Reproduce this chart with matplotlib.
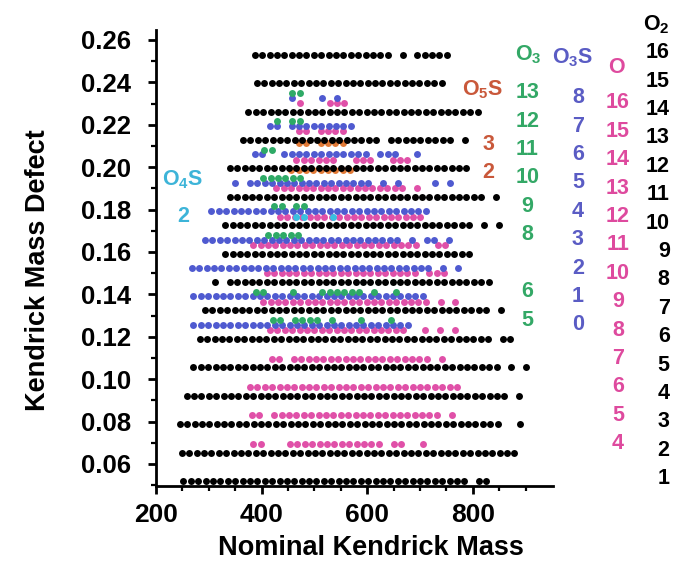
import numpy as np
import matplotlib
matplotlib.use("Agg")
import matplotlib.pyplot as plt
from matplotlib.ticker import FixedLocator

plt.rcParams['font.family'] = 'Liberation Sans'
plt.rcParams['font.weight'] = 'bold'
plt.rcParams['mathtext.fontset'] = 'custom'
plt.rcParams['mathtext.rm'] = 'Liberation Sans:bold'
plt.rcParams['mathtext.it'] = 'Liberation Sans:bold'
plt.rcParams['mathtext.bf'] = 'Liberation Sans:bold'

# Each row = (DBE, Kendrick mass defect, first nominal mass, mask)
# mask: one char per CH2 step (14 Da), '#' = peak seen, '.' = none (spaces only for reading)
o2_rows = [
    (1, 0.0520, 252, "########## ########## ########## #########. ##"),
    (2, 0.0654, 249, "########## ########## ########## ########## ######"),
    (3, 0.0788, 245, "########## ########## ########## ########## ####..#"),
    (4, 0.0922, 258, "########## ########## ########## ########## ####.#"),
    (5, 0.1056, 271, "########## ########## ########## ########## ##.#.#"),
    (6, 0.1190, 283, "########## ########## ########## ########## .##"),
    (7, 0.1324, 293, "########## ########## ########## #########. #"),
    (8, 0.1458, 312, "#.######## ########## ########## ########"),
    (9, 0.1592, 331, "########## ########## ########## ####"),
    (10, 0.1726, 331, "########## ########## ########## ####.#.#"),
    (11, 0.1860, 340, "########## ########## ########## #####.#"),
    (12, 0.1994, 340, "########## ########## ########## ###"),
    (13, 0.2128, 365, "########## #########. #########. #"),
    (14, 0.2262, 375, "########## ########## ########## ##"),
    (15, 0.2396, 391, "########## ########## ######"),
    (16, 0.2530, 387, "########## #########. #.#####"),
]

o_rows = [
    (4, 0.0695, 384, "##... ##### ######## .##..#"),
    (5, 0.0829, 382, "##. ########## ########## ### .#"),
    (6, 0.0963, 378, "########## ########## #########"),
    (7, 0.1097, 419, "##. ########## ######### .#"),
    (8, 0.1231, 416, "########## ######### ..#.#.#"),
    (9, 0.1365, 403, "########## ########## ### .#.#"),
    (10, 0.1499, 410, "########## ########## # .###"),
    (11, 0.1633, 384, "########## ########## ### ..##"),
    (12, 0.1767, 435, "########## ##########"),
    (13, 0.1901, 428, "########## ######## .#"),
    (14, 0.2035, 466, "######..###..###"),
    (15, 0.2169, 470, "##.####"),
    (16, 0.2303, 473, "#...###"),
]

o3s_rows = [
    (0, 0.1256, 271, "########## ########## ##########"),
    (1, 0.1390, 271, "########## ########## ########## ##"),
    (2, 0.1524, 268, "########## ########## ########## ### .#.#"),
    (3, 0.1658, 293, "########## ########## ####### .#.##.#"),
    (4, 0.1792, 305, "########## ########## ##########"),
    (5, 0.1926, 350, "#. ########## ####### .#.#....#.#"),
    (6, 0.2060, 387, "##.. ############ .###..#"),
    (7, 0.2194, 415, "##. #########"),
    (8, 0.2328, 458, "#...#.#"),
]

o3_rows = [
    (5, 0.1279, 421, "##.####.#...#...#"),
    (6, 0.1413, 389, "##...#...######.#..#"),
    (8, 0.1681, 413, "#####"),
    (9, 0.1815, 424, "##.##"),
    (10, 0.1949, 403, "######"),
    (11, 0.2083, 405, "##"),
    (12, 0.2217, 430, "#.##"),
    (13, 0.2351, 458, "##"),
]

o5s_rows = [
    (2, 0.1985, 456, "#########"),
    (3, 0.2115, 470, "##.####"),
]

o4s_rows = [
    (2, 0.1765, 466, "##...#"),
]

o2_color, o_color, o3s_color = 'black', '#de4a9e', '#5a5cc4'
o3_color, o5s_color, o4s_color = '#33a866', '#c9583a', '#3db4d8'
o2_dot, o_dot, o3s_dot = 'black', '#e050a8', '#4f5ad0'
o3_dot, o5s_dot, o4s_dot = '#2eaa66', '#e27a36', '#38c0e0'

o5s_label_kmd = [0.1977, 0.2105]


def row_points(rows):
    xs, ys = [], []
    for dbe, kmd, start, mask in rows:
        mask = mask.replace(" ", "")
        for i, c in enumerate(mask):
            if c == "#":
                xs.append(start + 14 * i)
                ys.append(kmd)
    return xs, ys


fig = plt.figure(figsize=(6.75, 5.63), dpi=100)
ax = fig.add_axes([156 / 675, 1 - 486 / 563, 397 / 675, 456 / 563])

dot = 25
for rows, col, z in [(o5s_rows, o5s_dot, 2), (o2_rows, o2_dot, 3), (o_rows, o_dot, 4),
                     (o3s_rows, o3s_dot, 5), (o3_rows, o3_dot, 6), (o4s_rows, o4s_dot, 7)]:
    xs, ys = row_points(rows)
    ax.scatter(xs, ys, s=dot, color=col, linewidths=0, zorder=z, clip_on=False)

ax.set_xlim(200, 952)
ax.set_ylim(0.0496, 0.2647)
ax.set_xticks([200, 400, 600, 800])
ax.xaxis.set_minor_locator(FixedLocator(np.arange(250, 901, 50)))
yt = [0.06, 0.08, 0.10, 0.12, 0.14, 0.16, 0.18, 0.20, 0.22, 0.24, 0.26]
ax.set_yticks(yt)
ax.set_yticklabels(["%.2f" % v for v in yt])
ax.yaxis.set_minor_locator(FixedLocator(np.arange(0.05, 0.2651, 0.01)))

for s in ['top', 'right']:
    ax.spines[s].set_visible(False)
for s in ['left', 'bottom']:
    ax.spines[s].set_linewidth(2)
ax.tick_params(axis='both', which='major', direction='out', length=6, width=2)
ax.tick_params(axis='y', which='major', pad=12, labelsize=18.5)
ax.tick_params(axis='x', which='major', pad=6, labelsize=19)
ax.tick_params(axis='both', which='minor', direction='out', length=3.5, width=1.6)

fig.text(371 / 675, 1 - 548 / 563, "Nominal Kendrick Mass", ha='center', va='center',
         fontsize=19.5, fontweight='bold')
fig.text(38 / 675, 1 - 270 / 563, "Kendrick Mass Defect", ha='center', va='center',
         rotation=90, fontsize=19.5, fontweight='bold')

lab = dict(fontsize=15.5, fontweight='bold', va='center', clip_on=False)

# column titles
ax.text(251, 0.194, "O$_4$S", color=o4s_color, ha='center', **lab)
ax.text(819, 0.2364, "O$_5$S", color=o5s_color, ha='center', **lab)
ax.text(905, 0.2529, "O$_3$", color=o3_color, ha='center', **lab)
ax.text(990, 0.2515, "O$_3$S", color=o3s_color, ha='center', **lab)
ax.text(1073, 0.2468, "O", color=o_color, ha='center', **lab)
ax.text(1147, 0.2670, "O$_2$", color=o2_color, ha='center', **lab)

# DBE numbers next to each series
for dbe, kmd, start, mask in o4s_rows:
    ax.text(251, kmd, str(dbe), color=o4s_color, ha='center', **lab)
for (dbe, kmd, start, mask), ly in zip(o5s_rows, o5s_label_kmd):
    ax.text(829, ly, str(dbe), color=o5s_color, ha='center', **lab)
for dbe, kmd, start, mask in o3_rows:
    ax.text(903, kmd, str(dbe), color=o3_color, ha='center', **lab)
for dbe, kmd, start, mask in o3s_rows:
    ax.text(999, kmd, str(dbe), color=o3s_color, ha='center', **lab)
for dbe, kmd, start, mask in o_rows:
    ax.text(1075, kmd, str(dbe), color=o_color, ha='center', **lab)
for dbe, kmd, start, mask in o2_rows:
    ax.text(1173, kmd + 0.001, str(dbe), color=o2_color, ha='right', **lab)

fig.savefig("out.png", dpi=100)
